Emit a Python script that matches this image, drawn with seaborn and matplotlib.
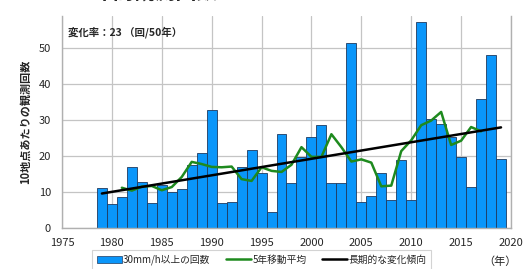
import matplotlib
matplotlib.use('Agg')
import matplotlib.pyplot as plt
import seaborn as sns
from matplotlib.patches import Patch
from matplotlib.lines import Line2D

# yearly counts of 30mm/h+ rainfall (per 10 stations)
years = list(range(1979, 2020))
counts = [11.0, 6.6, 8.7, 17.0, 12.8, 6.9, 11.9, 10.0, 10.8, 17.6,
          20.8, 32.8, 6.9, 7.1, 17.0, 21.6, 15.2, 4.4, 26.1, 12.4,
          19.8, 25.4, 28.8, 12.4, 12.4, 51.6, 7.1, 9.0, 15.2, 7.9,
          18.9, 7.9, 57.3, 30.2, 28.9, 25.4, 19.8, 11.3, 35.9, 48.2,
          19.1]

# 5-year moving average (centered)
ma_years = list(range(1981, 2018))
ma_values = [11.2, 10.4, 11.5, 11.7, 10.5, 11.4, 14.2, 18.4, 17.8, 17.0,
             16.9, 17.1, 13.6, 13.1, 16.9, 15.9, 15.6, 17.6, 22.5, 19.8,
             19.8, 26.1, 22.5, 18.5, 19.1, 18.2, 11.6, 11.8, 21.4, 24.4,
             28.6, 29.9, 32.3, 23.1, 24.3, 28.1, 26.9]

# long-term trend
trend_years = [1979, 2019]
trend_values = [9.6, 28.0]

sns.set_style('white')
plt.rcParams['font.family'] = ['Noto Sans CJK JP', 'DejaVu Sans']

fig = plt.figure(figsize=(5.26, 2.69), dpi=100)
ax = fig.add_axes([62/526, 41/269, (511-62)/526, (228-16)/269])

bar_color = '#0A96FA'
sns.barplot(x=years, y=counts, native_scale=True, width=1, color=bar_color,
            saturation=1, edgecolor='#1F3A5F', linewidth=0.6, ax=ax, zorder=2)
sns.lineplot(x=ma_years, y=ma_values, color='#1E8A1E', linewidth=1.8, ax=ax, zorder=3)
sns.lineplot(x=trend_years, y=trend_values, color='black', linewidth=1.8, ax=ax, zorder=4)

ax.set_xlim(1975, 2020)
ax.set_ylim(0, 59)
ax.set_xticks(range(1975, 2021, 5))
ax.set_yticks(range(0, 60, 10))
ax.grid(True, color='#C4C4C4', linewidth=0.9, zorder=0)
ax.set_axisbelow(True)
for s in ['left', 'right', 'bottom']:
    ax.spines[s].set_color('#B0B0B0')
    ax.spines[s].set_linewidth(1.0)
ax.spines['top'].set_visible(False)
ax.tick_params(axis='x', direction='out', length=3, color='#B0B0B0', labelsize=8, pad=4)
ax.tick_params(axis='y', length=0, labelsize=8, pad=8)
ax.set_xlabel('')
ax.set_ylabel('10地点あたりの観測回数', fontsize=8, fontweight='bold', labelpad=5)

# title is partly cut off at the top edge, as in the original crop
fig.text(155/526, 1 + 7/269, '年間観測回数', fontsize=15, fontweight='bold',
         ha='center', va='center')
fig.text(68/526, 1 - 32/269, '変化率：23 （回/50年）', fontsize=7.5,
         fontweight='bold', ha='left', va='center')
fig.text(500/526, 1 - 262/269, '（年）', fontsize=8, ha='center', va='center')

handles = [Patch(facecolor=bar_color, edgecolor='#1F3A5F', linewidth=0.5),
           Line2D([0], [0], color='#1E8A1E', linewidth=1.8),
           Line2D([0], [0], color='black', linewidth=1.8)]
labels = ['30mm/h以上の回数', '5年移動平均', '長期的な変化傾向']
leg = fig.legend(handles, labels, loc='upper left', bbox_to_anchor=(92/526, 1 - 250/269),
                 ncol=3, fontsize=7, frameon=True, fancybox=False, borderaxespad=0,
                 handlelength=2.6, handletextpad=0.1, columnspacing=1.6,
                 borderpad=0.5, handleheight=0.8)
leg.get_frame().set_edgecolor('#C8C8C8')
leg.get_frame().set_linewidth(0.8)

fig.savefig('out.png', dpi=100)
